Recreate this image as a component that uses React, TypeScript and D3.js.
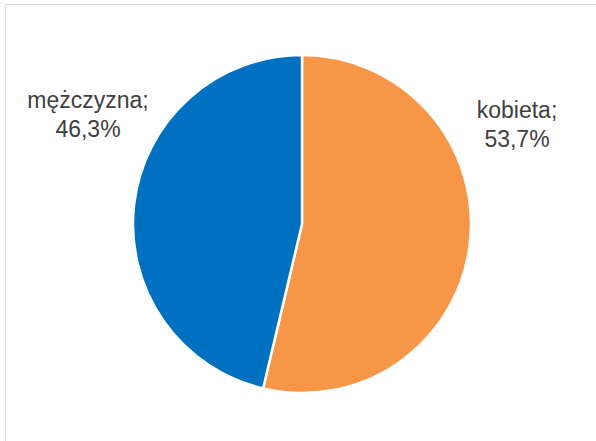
import React from "react";
import * as d3 from "d3";

const categories = ["kobieta", "mężczyzna"];
const values = [53.7, 46.3];
const colors = ["#F79646", "#0070C0"];
const labelLines = [["kobieta;", "53,7%"], ["mężczyzna;", "46,3%"]];

const W = 596;
const H = 441;
const cx = 302;
const cy = 224;
const R = 169;

export default function App() {
  const pie = d3.pie<number>().sort(null).value((d) => d)(values);
  const arc = d3.arc<d3.PieArcDatum<number>>().innerRadius(0).outerRadius(R);
  const labelPos = [
    { x: 517, y: 118 },
    { x: 88, y: 108 },
  ];
  return (
    <svg
      width={W}
      height={H}
      style={{ position: "absolute", left: 0, top: 0 }}
    >
      <rect x={0} y={0} width={W} height={H} fill="#fff" />
      <rect x={5.5} y={4.5} width={W + 10} height={H + 10} fill="#fff" stroke="#d9d9d9" strokeWidth={1} />
      <g transform={`translate(${cx},${cy})`}>
        {pie.map((p, i) => (
          <path key={categories[i]} d={arc(p) || ""} fill={colors[i]} stroke="#fff" strokeWidth={2.5} strokeLinejoin="round" />
        ))}
      </g>
      {labelLines.map((lines, i) => (
        <text
          key={i}
          x={labelPos[i].x}
          y={labelPos[i].y}
          textAnchor="middle"
          fontFamily="Liberation Sans, Arial, sans-serif"
          fontSize={23}
          fill="#404040"
        >
          {lines.map((l, j) => (
            <tspan key={j} x={labelPos[i].x} dy={j === 0 ? 0 : 28.5}>
              {l}
            </tspan>
          ))}
        </text>
      ))}
    </svg>
  );
}
